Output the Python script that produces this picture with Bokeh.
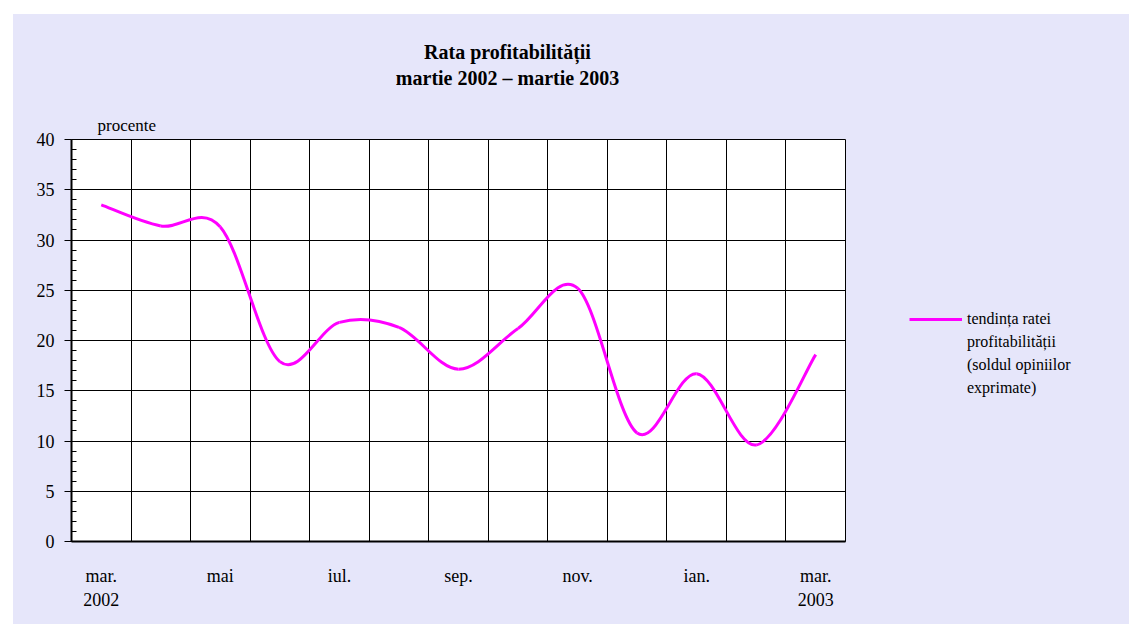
from bokeh.plotting import figure
from bokeh.layouts import column, row
from bokeh.models import Range1d, FixedTicker, SingleIntervalTicker, Legend, LegendItem, ColumnDataSource, Title, Label
from bokeh.embed import file_html
from bokeh.resources import INLINE

# ---- data ----
months = ["mar.", "apr.", "mai", "iun.", "iul.", "aug.", "sep.", "oct.", "nov.", "dec.", "ian.", "feb.", "mar."]
values = [33.5, 31.4, 31.3, 17.9, 21.8, 21.3, 17.15, 21.2, 25.2, 10.8, 16.7, 9.6, 18.6]
tick_positions = [0, 2, 4, 6, 8, 10, 12]
tick_labels = ["mar.\n2002", "mai", "iul.", "sep.", "nov.", "ian.", "mar.\n2003"]
title_lines = ["Rata profitabilității", "martie 2002 – martie 2003"]
legend_lines = ["tendința ratei", "profitabilității", "(soldul opiniilor", "exprimate)"]
y_unit = "procente"

FONT = "Liberation Serif"
MAGENTA = "#FF00FF"
BG = "#E6E6FA"

n = len(values)
xs = list(range(n))

# Bezier segments (Catmull-Rom style smoothing, as in the original chart)
x0, y0, x1, y1, cx0, cy0, cx1, cy1 = [], [], [], [], [], [], [], []
for i in range(n - 1):
    a = max(i - 1, 0)
    d = min(i + 2, n - 1)
    x0.append(xs[i]); y0.append(values[i])
    x1.append(xs[i + 1]); y1.append(values[i + 1])
    cx0.append(xs[i] + (xs[i + 1] - xs[a]) / 6.0)
    cy0.append(values[i] + (values[i + 1] - values[a]) / 6.0)
    cx1.append(xs[i + 1] - (xs[d] - xs[i]) / 6.0)
    cy1.append(values[i + 1] - (values[d] - values[i]) / 6.0)
src = ColumnDataSource(dict(x0=x0, y0=y0, x1=x1, y1=y1, cx0=cx0, cy0=cy0, cx1=cx1, cy1=cy1))

TOTAL_W, TOTAL_H = 1116, 610
HEAD_H = 92
MAIN_W = 847
MAIN_H = TOTAL_H - HEAD_H
LEG_W = TOTAL_W - MAIN_W


def blank_fig(w, h):
    f = figure(width=w, height=h, x_range=Range1d(0, w), y_range=Range1d(0, h),
               output_backend="svg", toolbar_location=None,
               x_axis_location=None, y_axis_location=None,
               min_border=0, min_border_left=0, min_border_right=0, min_border_top=0, min_border_bottom=0)
    f.xgrid.visible = False
    f.ygrid.visible = False
    f.outline_line_color = None
    f.background_fill_alpha = 0
    f.border_fill_alpha = 0
    return f


# ---- header with title ----
head = blank_fig(TOTAL_W, HEAD_H)
head.add_layout(Label(x=494, y=55, text=title_lines[0], text_align="center", text_baseline="alphabetic",
                      text_font=FONT, text_font_style="bold", text_font_size="20px", text_color="black"))
head.add_layout(Label(x=494, y=29, text=title_lines[1], text_align="center", text_baseline="alphabetic",
                      text_font=FONT, text_font_style="bold", text_font_size="20px", text_color="black"))

# ---- main chart ----
p = figure(width=MAIN_W, height=MAIN_H, title=None,
           x_range=Range1d(-0.5, n - 0.5), y_range=Range1d(0, 40),
           output_backend="svg", toolbar_location=None,
           min_border_left=58, min_border_top=33, min_border_bottom=83, min_border_right=15)
p.border_fill_alpha = 0
p.background_fill_color = "white"
p.outline_line_color = "black"
p.outline_line_width = 1

p.bezier(x0="x0", y0="y0", x1="x1", y1="y1", cx0="cx0", cy0="cy0", cx1="cx1", cy1="cy1",
         source=src, line_color=MAGENTA, line_width=3)

p.xaxis.ticker = FixedTicker(ticks=tick_positions)
p.xaxis.major_label_overrides = {t: l for t, l in zip(tick_positions, tick_labels)}
p.xaxis.major_tick_in = 0
p.xaxis.major_tick_out = 0
p.xaxis.minor_tick_in = 0
p.xaxis.minor_tick_out = 0
p.xaxis.axis_line_width = 2
p.xaxis.axis_line_color = "black"
p.xaxis.major_label_standoff = 24
p.xaxis.major_label_text_font = FONT
p.xaxis.major_label_text_font_size = "18px"
p.xaxis.major_label_text_color = "black"

p.yaxis.ticker = SingleIntervalTicker(interval=5, num_minor_ticks=5)
p.yaxis.major_tick_in = 0
p.yaxis.major_tick_out = 7
p.yaxis.minor_tick_in = 5
p.yaxis.minor_tick_out = 0
p.yaxis.major_tick_line_color = "black"
p.yaxis.minor_tick_line_color = "black"
p.yaxis.axis_line_width = 2
p.yaxis.axis_line_color = "black"
p.yaxis.major_label_standoff = 10
p.yaxis.major_label_text_font = FONT
p.yaxis.major_label_text_font_size = "18px"
p.yaxis.major_label_text_color = "black"

p.xgrid.ticker = FixedTicker(ticks=[i + 0.5 for i in range(n - 1)])
p.xgrid.grid_line_color = "black"
p.ygrid.grid_line_color = "black"

p.add_layout(Title(text=y_unit, align="left", offset=26, standoff=10,
                   text_font=FONT, text_font_style="normal", text_font_size="17px", text_color="black"), "above")

# ---- legend panel ----
legf = blank_fig(LEG_W, MAIN_H)
r_leg = legf.line(x=[0], y=[0], line_color=MAGENTA, line_width=3)
r_blank = legf.line(x=[0], y=[0], line_alpha=0)
items = [LegendItem(label=legend_lines[0], renderers=[r_leg])] + \
        [LegendItem(label=t, renderers=[r_blank]) for t in legend_lines[1:]]
leg = Legend(items=items, location=(49, 143),
             padding=0, margin=0, spacing=3, glyph_width=53, glyph_height=20, label_height=20,
             label_standoff=5, border_line_color=None, background_fill_alpha=0,
             label_text_font=FONT, label_text_font_size="16px", label_text_color="black")
legf.add_layout(leg)

layout = column(head, row(p, legf, spacing=0), spacing=0)
layout.margin = (14, 0, 0, 13)
layout.styles = {"background-color": BG}

open("out.html", "w").write(file_html(layout, INLINE))
